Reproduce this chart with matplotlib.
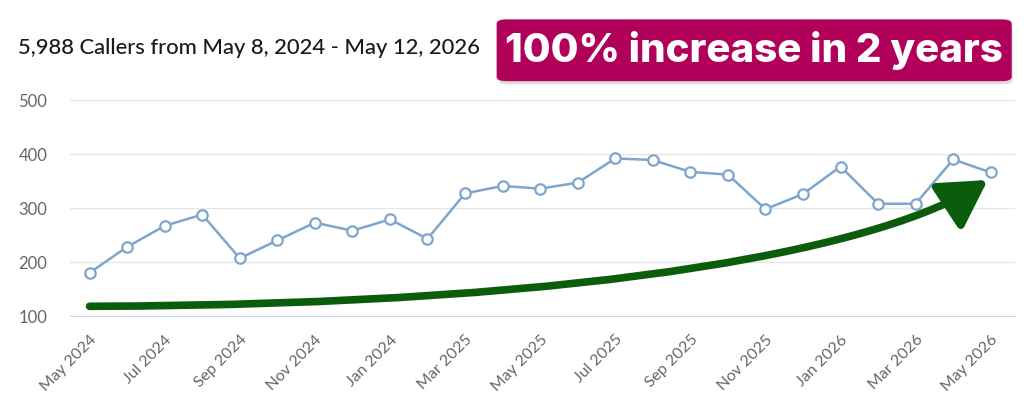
import matplotlib.pyplot as plt
from matplotlib.patches import FancyArrowPatch, FancyBboxPatch
from matplotlib.path import Path

# ---------------- DATA ----------------
months = ["May 2024", "Jun 2024", "Jul 2024", "Aug 2024", "Sep 2024", "Oct 2024",
          "Nov 2024", "Dec 2024", "Jan 2024", "Feb 2025", "Mar 2025", "Apr 2025",
          "May 2025", "Jun 2025", "Jul 2025", "Aug 2025", "Sep 2025", "Oct 2025",
          "Nov 2025", "Dec 2025", "Jan 2026", "Feb 2026", "Mar 2026", "Apr 2026",
          "May 2026"]
callers = [180, 228, 267, 288, 207, 240, 273, 258, 279, 243, 327, 341, 336,
           347, 392, 389, 367, 362, 298, 326, 377, 308, 308, 390, 366]
y_ticks = [100, 200, 300, 400, 500]

title = "5,988 Callers from May 8, 2024 - May 12, 2026"
badge = "100% increase in 2 years"

# trend arrow (annotation): index / value anchors of a cubic curve
arrow_x = [0, 14, 21.3, 23.92]
arrow_y = [118, 121, 232, 352]

# ---------------- STYLE ----------------
line_color = "#7ea6cc"
grid_color = "#e6e6e6"
arrow_color = "#0b5d0b"
badge_color = "#b0005a"

fig = plt.figure(figsize=(10.24, 4.12), dpi=100)
ax = fig.add_axes([0.068, 0.233, 0.923, 0.524])

x = list(range(len(months)))
ax.plot(x, callers, color=line_color, lw=1.8, marker="o", ms=7.5,
        mfc="white", mec=line_color, mew=1.6, zorder=3)

ax.set_xlim(-0.53, 24.64)
ax.set_ylim(100, 500)
ax.set_yticks(y_ticks)
ax.yaxis.grid(True, color=grid_color, lw=1)
ax.set_axisbelow(True)
for s in ["top", "right", "left"]:
    ax.spines[s].set_visible(False)
ax.spines["bottom"].set_color("#ccd6eb")
ax.tick_params(axis="both", length=0, colors="#666666")
ax.tick_params(axis="y", labelsize=12, pad=16)

ax.set_xticks(x[::2])
ax.set_xticklabels(months[::2], rotation=45, ha="right", rotation_mode="anchor",
                   fontsize=11.5, color="#666666")
ax.tick_params(axis="x", pad=12)

for lbl in ax.get_yticklabels() + ax.get_xticklabels():
    lbl.set_fontfamily("Lato")

# ---------------- ARROW ----------------
verts = list(zip(arrow_x, arrow_y))
path = Path(verts, [Path.MOVETO, Path.CURVE4, Path.CURVE4, Path.CURVE4])
arrow = FancyArrowPatch(path=path, arrowstyle="-|>,head_length=1.3,head_width=0.75",
                        mutation_scale=22, color=arrow_color, lw=5.5,
                        capstyle="round", zorder=4)
ax.add_patch(arrow)

# ---------------- TEXT ----------------
fig.text(0.018, 0.883, title, fontsize=15.8, color="#1a1a1a", family="Lato",
         weight="medium", va="center", ha="left")

shadow = FancyBboxPatch((0.487, 0.795), 0.502, 0.145,
                        boxstyle="round,pad=0,rounding_size=0.01",
                        transform=fig.transFigure, fc="#00000022", ec="none")
fig.patches.append(shadow)
box = FancyBboxPatch((0.485, 0.803), 0.503, 0.150,
                     boxstyle="round,pad=0,rounding_size=0.01",
                     transform=fig.transFigure, fc=badge_color, ec="none")
fig.patches.append(box)
fig.text(0.7365, 0.878, badge, fontsize=29, color="white", family="Inter",
         weight="heavy", va="center", ha="center")

fig.savefig("out.png", dpi=100)
